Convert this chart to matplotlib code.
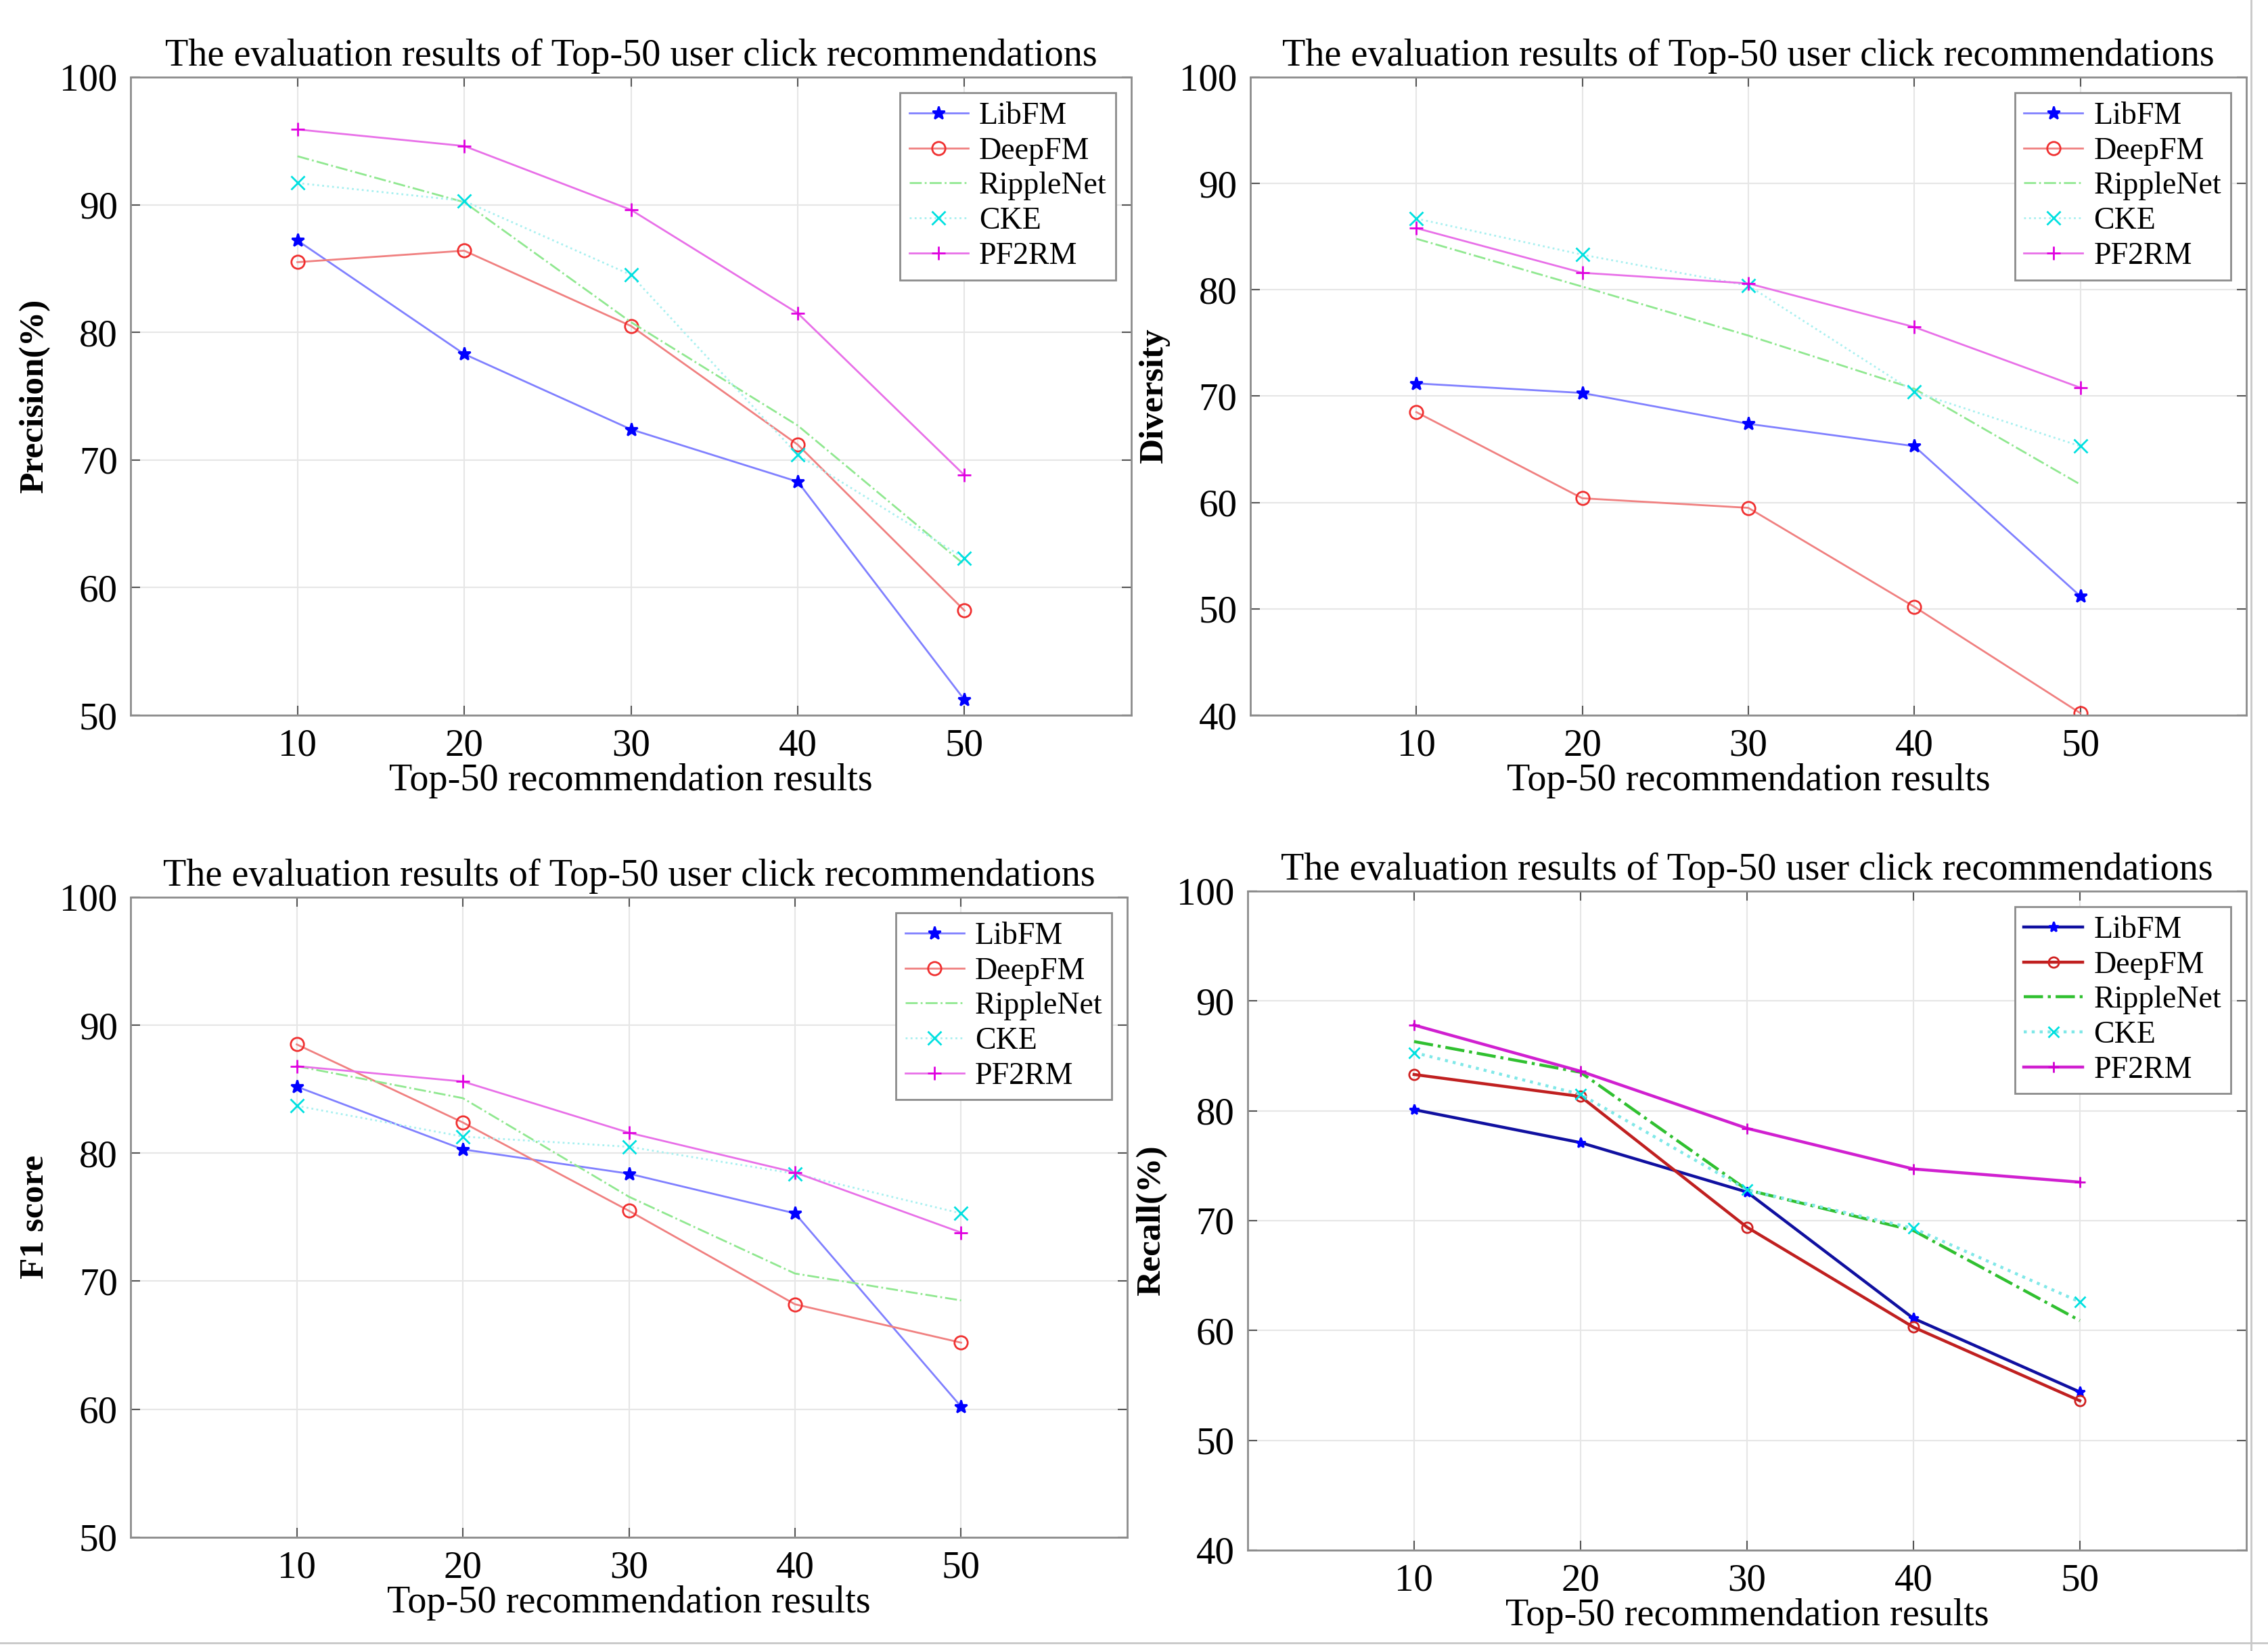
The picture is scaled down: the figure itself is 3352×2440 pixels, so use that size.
import matplotlib.pyplot as plt

plt.rcParams['font.family'] = ['Liberation Serif', 'DejaVu Serif']

# x axis values
top_n = [10, 20, 30, 40, 50]
methods = ['LibFM', 'DeepFM', 'RippleNet', 'CKE', 'PF2RM']
title_txt = 'The evaluation results of Top-50 user click recommendations'
xlab = 'Top-50 recommendation results'

# Precision(%)
prec_libfm = [87.2, 78.3, 72.4, 68.3, 51.2]
prec_deepfm = [85.5, 86.4, 80.5, 71.2, 58.2]
prec_ripple = [93.8, 90.2, 80.8, 72.7, 61.8]
prec_cke = [91.7, 90.3, 84.5, 70.4, 62.3]
prec_pf2rm = [95.9, 94.6, 89.6, 81.5, 68.8]

# Diversity
div_libfm = [71.2, 70.3, 67.4, 65.3, 51.2]
div_deepfm = [68.5, 60.4, 59.5, 50.2, 40.2]
div_ripple = [84.8, 80.3, 75.7, 70.7, 61.7]
div_cke = [86.7, 83.3, 80.4, 70.4, 65.3]
div_pf2rm = [85.8, 81.6, 80.6, 76.5, 70.8]

# F1 score
f1_libfm = [85.2, 80.3, 78.4, 75.3, 60.2]
f1_deepfm = [88.5, 82.4, 75.5, 68.2, 65.2]
f1_ripple = [86.8, 84.3, 76.6, 70.6, 68.5]
f1_cke = [83.7, 81.3, 80.5, 78.4, 75.3]
f1_pf2rm = [86.8, 85.6, 81.6, 78.5, 73.8]

# Recall(%)
rec_libfm = [80.1, 77.1, 72.6, 61.1, 54.4]
rec_deepfm = [83.3, 81.3, 69.4, 60.3, 53.6]
rec_ripple = [86.3, 83.5, 72.8, 69.1, 60.9]
rec_cke = [85.3, 81.5, 72.8, 69.3, 62.6]
rec_pf2rm = [87.8, 83.6, 78.4, 74.7, 73.5]

# light style (first three panels)
light = [
    dict(color='#8080ff', marker='*', ls='-', mfc='#0000ff', mec='#0000ff'),
    dict(color='#f08080', marker='o', ls='-', mfc='none', mec='#f03030'),
    dict(color='#90e890', marker='', ls='-.'),
    dict(color='#a8f0f0', marker='x', ls=':', mfc='#00e0e0', mec='#00e0e0'),
    dict(color='#e870e8', marker='+', ls='-', mfc='#e000e0', mec='#e000e0'),
]
# darker style (recall panel)
dark = [
    dict(color='#1010a0', marker='*', ls='-', mfc='#0000ff', mec='#0000ff'),
    dict(color='#c02020', marker='o', ls='-', mfc='none', mec='#d02020'),
    dict(color='#30c030', marker='', ls='-.'),
    dict(color='#80e8e8', marker='x', ls=':', mfc='#00e0e0', mec='#00e0e0'),
    dict(color='#d020d0', marker='+', ls='-', mfc='#d000d0', mec='#d000d0'),
]

fig = plt.figure(figsize=(33.52, 24.40), dpi=100)

panels = [
    ([0.0576, 0.5668, 0.4412, 0.3865], [prec_libfm, prec_deepfm, prec_ripple, prec_cke, prec_pf2rm],
     'Precision(%)', (50, 100), light, 2.0, 14),
    ([0.5513, 0.5668, 0.4391, 0.3865], [div_libfm, div_deepfm, div_ripple, div_cke, div_pf2rm],
     'Diversity', (40, 100), light, 2.0, 14),
    ([0.0576, 0.0689, 0.4394, 0.3877], [f1_libfm, f1_deepfm, f1_ripple, f1_cke, f1_pf2rm],
     'F1 score', (50, 100), light, 2.0, 14),
    ([0.5501, 0.0611, 0.4403, 0.3992], [rec_libfm, rec_deepfm, rec_ripple, rec_cke, rec_pf2rm],
     'Recall(%)', (40, 100), dark, 3.2, 11),
]

for pos, series, ylab, ylim, styles, lw, ms in panels:
    ax = fig.add_axes(pos)
    for name, vals, st in zip(methods, series, styles):
        ax.plot(top_n, vals, label=name, linewidth=lw, markersize=ms,
                markeredgewidth=2, **st)
    ax.set_xlim(0, 60)
    ax.set_ylim(*ylim)
    ax.set_xticks(top_n)
    ax.set_yticks(range(ylim[0], ylim[1] + 1, 10))
    ax.grid(True, color='#e6e6e6', linewidth=1.5)
    ax.set_axisbelow(True)
    for sp in ax.spines.values():
        sp.set_color('#8c8c8c')
        sp.set_linewidth(2)
    ax.tick_params(direction='in', length=10, width=1.5, color='#555555',
                   labelsize=41, top=True, right=True, pad=14)
    ax.set_title(title_txt, fontsize=40.5, pad=12)
    ax.set_xlabel(xlab, fontsize=40.5, labelpad=0)
    ax.set_ylabel(ylab, fontsize=37, fontweight='bold', labelpad=10)
    leg = ax.legend(loc='upper right', fontsize=33, handlelength=1.9,
                    handletextpad=0.35, labelspacing=0.2, borderpad=0.3,
                    fancybox=False, framealpha=1, edgecolor='#8c8c8c',
                    borderaxespad=0.5)
    leg.get_frame().set_linewidth(2)

# thin page border lines seen in the reference
fig.add_artist(plt.Line2D([0.9925, 0.9925], [0.0, 1.0], color='#c8c8c8', linewidth=2))
fig.add_artist(plt.Line2D([0.0, 1.0], [0.005, 0.005], color='#c8c8c8', linewidth=2))

fig.savefig('out.png', dpi=100)
